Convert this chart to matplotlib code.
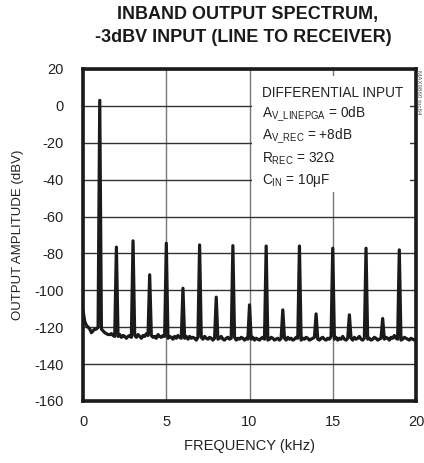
import numpy as np
import matplotlib
matplotlib.use('Agg')
import matplotlib.pyplot as plt
from matplotlib.patches import Rectangle

plt.rcParams['font.family'] = ['Liberation Sans', 'DejaVu Sans']
plt.rcParams['mathtext.fontset'] = 'custom'
plt.rcParams['mathtext.rm'] = 'Liberation Sans'
plt.rcParams['mathtext.it'] = 'Liberation Sans'
plt.rcParams['axes.unicode_minus'] = False

# noise floor, 0 to 20 kHz in 0.1 kHz steps (dBV)
floor_db = [
    -111, -117, -119, -120, -121, -123, -122, -121, -121, -120,
    -118, -121, -122, -123, -123.5, -124, -124, -123.5, -124.5, -125,
    -124.5, -125, -124, -125.5, -124.5, -125, -126, -125, -124.5, -125.5,
    -125, -124.5, -125.5, -124, -125, -126, -124.5, -125, -123.5, -124.5,
    -125, -124.5, -125.5, -125, -126, -124, -125, -125.5, -124.5, -125,
    -124.5, -126, -125, -125.5, -126.5, -125, -126, -124.5, -125.5, -126,
    -125.5, -126, -125, -126.5, -125, -126, -125.5, -126, -127, -125.5,
    -126, -125.5, -126.5, -125, -126, -126.5, -125.5, -126, -127, -126,
    -125.5, -126.5, -126, -125, -126.5, -127, -126, -125.5, -126.5, -126,
    -126, -125.5, -127, -126, -126.5, -125.5, -126, -127, -126, -126.5,
    -126, -126.5, -125.5, -127, -126, -126.5, -127, -126, -125.5, -126.5,
    -126, -127, -126.5, -125.5, -126, -127, -126.5, -126, -127, -126,
    -126.5, -126, -127, -125.5, -126.5, -126, -127, -126.5, -125.5, -126,
    -126.5, -127, -126, -126.5, -125.5, -126, -127, -126.5, -126, -125.5,
    -126, -126.5, -127, -126, -125.5, -126.5, -127, -126, -126.5, -125,
    -126, -126.5, -125.5, -127, -126, -126.5, -125, -126.5, -127, -126,
    -126.5, -126, -127, -125.5, -126.5, -126, -125, -126.5, -127, -126,
    -125.5, -126.5, -126, -127, -126.5, -125.5, -126, -127, -126.5, -126,
    -126, -126.5, -125.5, -126, -127, -125.5, -126, -124.5, -126, -126.5,
    -126, -127, -126.5, -125.5, -126, -126.5, -127, -126, -126.5, -127,
    -126.5,
]
freq_khz = np.arange(len(floor_db)) * 0.1

# fundamental and harmonics (kHz, dBV)
harm_khz = [1, 2, 3, 4, 5, 6, 7, 8, 9, 10, 11, 12, 13, 14, 15, 16, 17, 18, 19]
harm_db = [3, -76.6, -73.2, -91.6, -74.5, -98.9, -75.4, -103.7, -75.8, -107.9,
           -76, -110.6, -76, -112.8, -77.2, -113.3, -77.2, -115.3, -78.1]

trace = np.array(floor_db, dtype=float)
for f, a in zip(harm_khz, harm_db):
    trace[int(round(f * 10))] = a

fig = plt.figure(figsize=(4.24, 4.63), dpi=100)
ax = fig.add_axes([0.196, 0.134, 0.785, 0.717])

ax.plot(freq_khz, trace, color='#1a1a1a', lw=2.3, zorder=3)

ax.set_xlim(0, 20)
ax.set_ylim(-160, 20)
ax.set_xticks([0, 5, 10, 15, 20])
ax.set_yticks(np.arange(-160, 21, 20))
ax.tick_params(length=0, labelsize=10.5, colors='#222222')
ax.tick_params(axis='y', pad=14)
ax.tick_params(axis='x', pad=10)
ax.xaxis.grid(True, color='#777777', lw=1.0)
ax.yaxis.grid(True, color='#333333', lw=1.0)
ax.set_axisbelow(True)
for s in ax.spines.values():
    s.set_linewidth(2.6)
    s.set_color('#1a1a1a')

ax.set_xlabel('FREQUENCY (kHz)', fontsize=10.5, color='#222222', labelpad=7)
ax.set_ylabel('OUTPUT AMPLITUDE (dBV)', fontsize=9.5, color='#222222', labelpad=7)

# white box behind the conditions text
ax.add_patch(Rectangle((10.15, -46.7), 9.5, 62.9, facecolor='white',
                       edgecolor='none', zorder=2))
notes = ['DIFFERENTIAL INPUT',
         r'A$_{\mathrm{V\_LINEPGA}}$ = 0dB',
         r'A$_{\mathrm{V\_REC}}$ = +8dB',
         r'R$_{\mathrm{REC}}$ = 32$\Omega$',
         r'C$_{\mathrm{IN}}$ = 10$\mu$F']
for i, t in enumerate(notes):
    ax.text(10.75, 7 - 11.9 * i, t, fontsize=9.8, color='#222222',
            va='center', ha='left', zorder=4)

fig.text(0.585, 0.968, 'INBAND OUTPUT SPECTRUM,', fontsize=13, fontweight='bold',
         ha='center', va='center', color='#1a1a1a')
fig.text(0.573, 0.919, '-3dBV INPUT (LINE TO RECEIVER)', fontsize=13,
         fontweight='bold', ha='center', va='center', color='#1a1a1a')
fig.text(0.988, 0.80, 'MAX9860 toc64', fontsize=4.5, rotation=270,
         ha='center', va='center', color='#555555')

fig.savefig('out.png', dpi=100)
